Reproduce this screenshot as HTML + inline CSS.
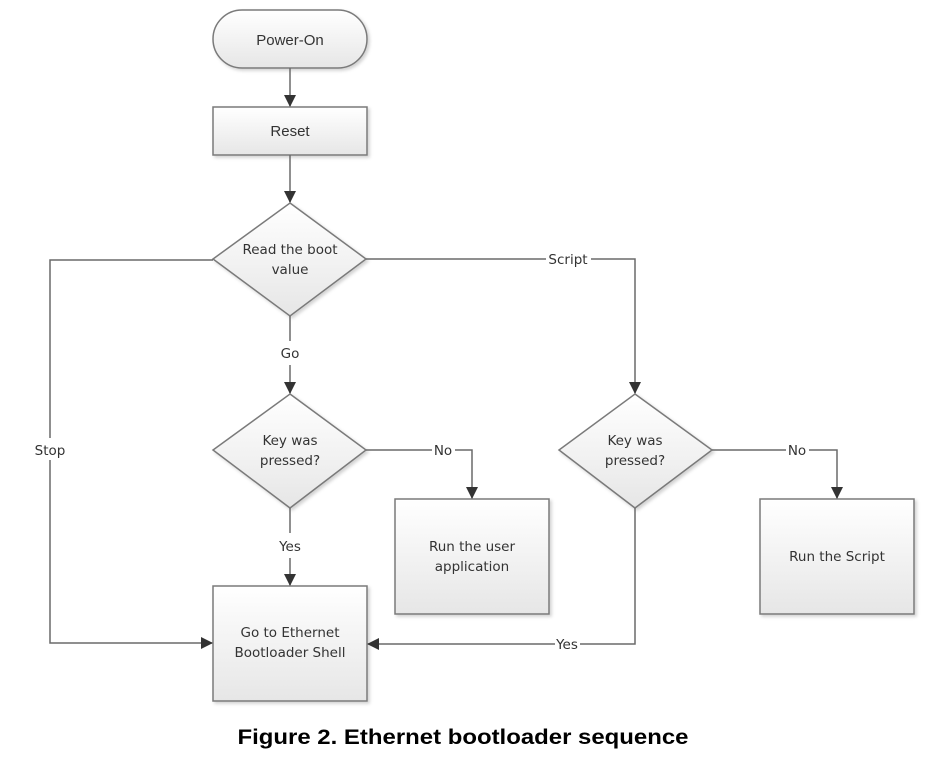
<!DOCTYPE html>
<html><head><meta charset="utf-8"><style>
html,body{margin:0;padding:0;background:#fff;}
svg{display:block;}
text{font-family:"DejaVu Sans","Liberation Sans",sans-serif;font-size:13.5px;fill:#333;}
</style></head><body>
<svg width="935" height="757" viewBox="0 0 935 757" xmlns="http://www.w3.org/2000/svg">
<defs>
<linearGradient id="g" x1="0" y1="0" x2="0" y2="1">
<stop offset="0" stop-color="#ffffff"/><stop offset="1" stop-color="#e6e6e6"/>
</linearGradient>
<filter id="s" x="-10%" y="-10%" width="130%" height="130%">
<feDropShadow dx="2" dy="2" stdDeviation="1.5" flood-color="#000" flood-opacity="0.18"/>
</filter>
<marker id="a" markerWidth="12" markerHeight="12" refX="11" refY="6" orient="auto" markerUnits="userSpaceOnUse">
<path d="M0,0 L12,6 L0,12 Z" fill="#333"/>
</marker>
</defs>
<g fill="url(#g)" stroke="#7a7a7a" stroke-width="1.5" filter="url(#s)">
<rect x="213" y="10" width="154" height="58" rx="29"/>
<rect x="213" y="107" width="154" height="48"/>
<polygon points="290,203 366,259 290,316 213,259"/>
<polygon points="290,394 366,450 290,508 213,450"/>
<polygon points="635,394 712,450 635,508 559,450"/>
<rect x="395" y="499" width="154" height="115"/>
<rect x="760" y="499" width="154" height="115"/>
<rect x="213" y="586" width="154" height="115"/>
</g>
<g fill="none" stroke="#6a6a6a" stroke-width="1.5">
<line x1="290" y1="68" x2="290" y2="106" marker-end="url(#a)"/>
<line x1="290" y1="155" x2="290" y2="202" marker-end="url(#a)"/>
<path d="M290,316 V341"/><path d="M290,365 V393" marker-end="url(#a)"/>
<path d="M290,508 V533"/><path d="M290,558 V585" marker-end="url(#a)"/>
<path d="M366,259 H546"/><path d="M591,259 H635 V393" marker-end="url(#a)"/>
<path d="M366,450 H432"/><path d="M455,450 H472 V498" marker-end="url(#a)"/>
<path d="M712,450 H786"/><path d="M809,450 H837 V498" marker-end="url(#a)"/>
<path d="M635,508 V644 H580"/><path d="M555,644 H368" marker-end="url(#a)"/>
<path d="M213,260 H50 V438"/><path d="M50,460 V643 H212" marker-end="url(#a)"/>
</g>
<g text-anchor="middle">
<text x="290" y="45" style="font-family:'Liberation Sans',sans-serif;font-size:15px">Power-On</text>
<text x="290" y="136" style="font-family:'Liberation Sans',sans-serif;font-size:15px">Reset</text>
<text x="290" y="254">Read the boot</text>
<text x="290" y="274">value</text>
<text x="290" y="358">Go</text>
<text x="290" y="445">Key was</text>
<text x="290" y="465">pressed?</text>
<text x="290" y="551">Yes</text>
<text x="635" y="445">Key was</text>
<text x="635" y="465">pressed?</text>
<text x="568" y="264">Script</text>
<text x="443" y="455">No</text>
<text x="797" y="455">No</text>
<text x="567" y="649">Yes</text>
<text x="50" y="455">Stop</text>
<text x="472" y="551">Run the user</text>
<text x="472" y="571">application</text>
<text x="837" y="561">Run the Script</text>
<text x="290" y="637">Go to Ethernet</text>
<text x="290" y="657">Bootloader Shell</text>
<text x="463" y="744" style="font-family:'Liberation Sans',sans-serif;font-weight:bold;font-size:21px;fill:#000" textLength="451" lengthAdjust="spacingAndGlyphs">Figure 2. Ethernet bootloader sequence</text>
</g>
</svg>
</body></html>
